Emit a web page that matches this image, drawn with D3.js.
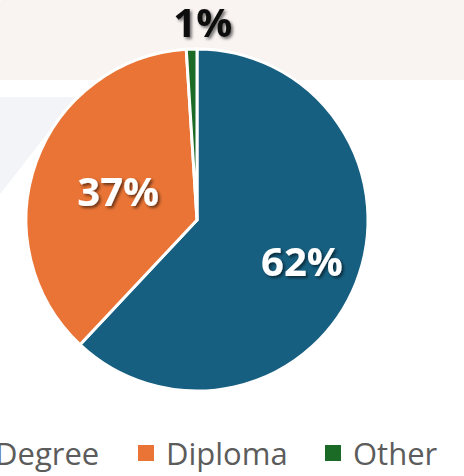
<!DOCTYPE html>
<html>
<head>
<meta charset="utf-8">
<script src="https://cdn.jsdelivr.net/npm/d3@7"></script>
<style>
  html, body { margin: 0; padding: 0; background: #fff; overflow: hidden; }
  svg { display: block; font-family: "Open Sans", sans-serif; }
</style>
</head>
<body>
<div id="chart"></div>
<script>
const categories = ['Degree', 'Diploma', 'Other'];
const shares = [62, 37, 1];
const colors = ['#175f80', '#e97435', '#1b6b26'];

const width = 464;
const height = 476;
const cx = 197;
const cy = 220;
const radius = 171;
// how far out (fraction of radius) each inside label sits
const labelDist = { Degree: 0.66, Diploma: 0.49 };

const svg = d3.select('#chart').append('svg')
  .attr('width', width)
  .attr('height', height);

const defs = svg.append('defs');
const shadow = defs.append('filter').attr('id', 'txt-shadow')
  .attr('x', '-20%').attr('y', '-20%').attr('width', '140%').attr('height', '140%');
shadow.append('feDropShadow')
  .attr('dx', 2).attr('dy', 2).attr('stdDeviation', 1.5)
  .attr('flood-color', '#000').attr('flood-opacity', 0.55);

// background decoration
const bandFill = '#f9f4f2';
svg.append('rect')
  .attr('x', -1).attr('y', -8).attr('width', width + 10).attr('height', 88)
  .attr('rx', 16)
  .attr('fill', bandFill);
svg.append('rect')
  .attr('x', -1).attr('y', 40).attr('width', width + 2).attr('height', 40)
  .attr('fill', bandFill);
svg.append('path')
  .attr('d', 'M0,97 L76,97 L0,194 Z')
  .attr('fill', '#f2f4f8');

const data = categories.map((name, i) => ({ name, value: shares[i], color: colors[i] }));

const pie = d3.pie().sort(null).value((d) => d.value);
const arcs = pie(data);
const arc = d3.arc().innerRadius(0).outerRadius(radius);

const g = svg.append('g').attr('transform', `translate(${cx},${cy})`);

g.selectAll('path.slice')
  .data(arcs)
  .join('path')
  .attr('class', 'slice')
  .attr('d', arc)
  .attr('fill', (d) => d.data.color)
  .attr('stroke', '#fff')
  .attr('stroke-width', 3)
  .attr('stroke-linejoin', 'round');

g.selectAll('text.inner')
  .data(arcs.filter((d) => d.data.value >= 5))
  .join('text')
  .attr('class', 'inner')
  .attr('transform', (d) => {
    const r = radius * labelDist[d.data.name];
    const [x, y] = d3.arc().innerRadius(r).outerRadius(r).centroid(d);
    return `translate(${x},${y})`;
  })
  .attr('text-anchor', 'middle')
  .attr('dy', '0.36em')
  .attr('font-size', 40)
  .attr('font-weight', 700)
  .attr('fill', '#fff')
  .attr('filter', 'url(#txt-shadow)')
  .text((d) => `${d.data.value}%`);

// small slice label sits outside, above the pie
const outerArc = d3.arc().innerRadius(radius + 27).outerRadius(radius + 27);
g.selectAll('text.outer')
  .data(arcs.filter((d) => d.data.value < 5))
  .join('text')
  .attr('class', 'outer')
  .attr('transform', (d) => {
    const [x, y] = outerArc.centroid(d);
    return `translate(${x + 12},${y})`;
  })
  .attr('text-anchor', 'middle')
  .attr('dy', '0.36em')
  .attr('font-size', 40)
  .attr('font-weight', 700)
  .attr('fill', '#111')
  .attr('filter', 'url(#txt-shadow)')
  .text((d) => `${d.data.value}%`);

// legend (first item runs off the left edge, as in the source)
const legend = svg.append('g').attr('transform', 'translate(0,465)');
const itemX = [-33, 138, 325];
const item = legend.selectAll('g')
  .data(data)
  .join('g')
  .attr('transform', (d, i) => `translate(${itemX[i]},0)`);
item.append('rect')
  .attr('y', -20).attr('width', 16).attr('height', 16)
  .attr('fill', (d) => d.color);
item.append('text')
  .attr('x', 28)
  .attr('font-size', 31)
  .attr('fill', '#5c5c5c')
  .text((d) => d.name);
</script>
</body>
</html>
